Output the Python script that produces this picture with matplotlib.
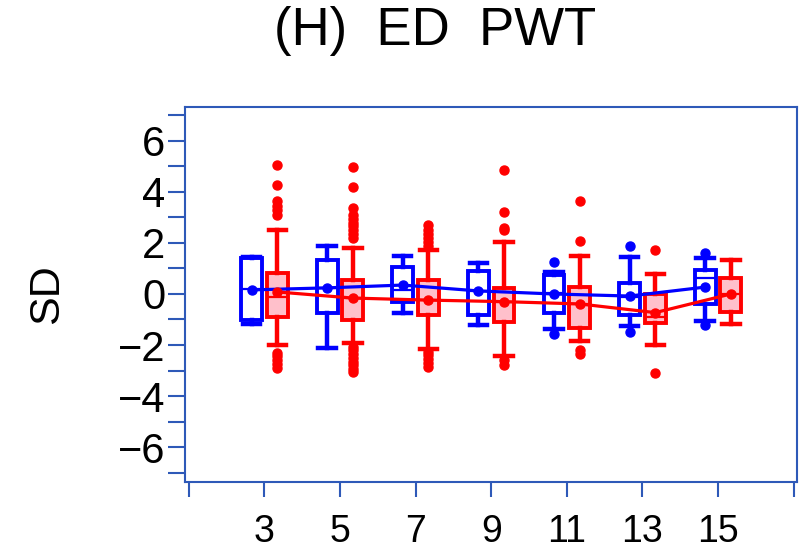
import matplotlib
matplotlib.use("Agg")
import matplotlib.pyplot as plt
from matplotlib.ticker import MultipleLocator

plt.rcParams["font.family"] = ["Liberation Sans", "DejaVu Sans"]

AXIS_BLUE = "#2e59b8"

groups = [3, 5, 7, 9, 11, 13, 15]

# blue series
blue_q1 = [-1.02, -0.76, -0.30, -0.82, -0.73, -0.82, -0.39]
blue_q3 = [1.40, 1.33, 1.07, 0.92, 0.75, 0.44, 0.94]
blue_med = [0.20, 0.22, 0.16, 0.10, 0.03, -0.10, 0.61]
blue_lo = [-1.18, -2.13, -0.76, -1.22, -1.39, -1.25, -1.05]
blue_hi = [1.45, 1.88, 1.49, 1.23, 0.85, 1.44, 1.40]
blue_mean = [0.16, 0.24, 0.35, 0.12, 0.00, -0.08, 0.27]
blue_out = [[], [], [], [], [1.27, -1.57], [1.88, -1.48], [1.62, -1.22]]

# red series
red_q1 = [-0.89, -1.02, -0.82, -1.09, -1.35, -1.15, -0.69]
red_q3 = [0.81, 0.55, 0.55, 0.22, 0.29, 0.00, 0.61]
red_med = [-0.10, -0.17, -0.24, -0.30, -0.39, -0.89, 0.00]
red_lo = [-2.00, -1.91, -2.17, -2.43, -1.83, -2.00, -1.18]
red_hi = [2.51, 1.79, 1.73, 2.05, 1.49, 0.78, 1.33]
red_mean = [0.08, -0.16, -0.24, -0.30, -0.39, -0.73, 0.00]
red_out = [
    [5.06, 4.27, 3.65, 3.45, 3.3, 3.1, -2.3, -2.45, -2.6, -2.75, -2.9],
    [4.99, 4.21, 3.36, 3.1, 2.95, 2.8, 2.65, 2.5, 2.35, 2.2,
     -2.07, -2.2, -2.35, -2.5, -2.65, -2.8, -2.95, -3.05],
    [2.71, 2.5, 2.35, 2.2, 2.05, 1.9, -2.26, -2.4, -2.55, -2.7, -2.85],
    [4.86, 3.23, 2.6, 2.5, -2.6, -2.8],
    [3.66, 2.09, -2.2, -2.35],
    [1.73, -3.09],
    [],
]

y_ticks = [-6, -4, -2, 0, 2, 4, 6]
x_ticks = [1, 3, 5, 7, 9, 11, 13, 15, 17]
x_labels = ["", "3", "5", "7", "9", "11", "13", "15", ""]


def make_stats(q1, q3, med, lo, hi, mean, out):
    return [
        dict(q1=a, q3=b, med=m, whislo=l, whishi=h, mean=mn, fliers=f)
        for a, b, m, l, h, mn, f in zip(q1, q3, med, lo, hi, mean, out)
    ]


def draw_series(ax, stats, positions, color, fill):
    lw = 2.8
    ax.bxp(
        stats,
        positions=positions,
        widths=0.55,
        capwidths=0.46,
        patch_artist=True,
        showmeans=False,
        boxprops=dict(facecolor=fill, edgecolor=color, linewidth=lw),
        whiskerprops=dict(color=color, linewidth=lw + 0.4),
        capprops=dict(color=color, linewidth=lw + 0.4),
        medianprops=dict(color=color, linewidth=1.6),
        flierprops=dict(marker="o", markerfacecolor=color, markeredgecolor=color,
                        markersize=6.5),
        manage_ticks=False,
    )


fig = plt.figure(figsize=(8, 5.56), dpi=100)
ax = fig.add_axes([185 / 800, 74 / 556, 612 / 800, 375 / 556])

blue_pos = [g - 0.34 for g in groups]
red_pos = [g + 0.34 for g in groups]

draw_series(ax, make_stats(blue_q1, blue_q3, blue_med, blue_lo, blue_hi, blue_mean, blue_out),
            blue_pos, "#0000ff", "white")
draw_series(ax, make_stats(red_q1, red_q3, red_med, red_lo, red_hi, red_mean, red_out),
            red_pos, "#ff0000", "#ffc0cb")

ax.plot(blue_pos, blue_mean, color="#0000ff", linewidth=2.3, marker="o", markersize=6.5, zorder=5)
ax.plot(red_pos, red_mean, color="#ff0000", linewidth=2.3, marker="o", markersize=6.5, zorder=5)

ax.set_xlim(0.9, 17.09)
ax.set_ylim(-7.37, 7.33)

ax.set_yticks(y_ticks)
ax.yaxis.set_minor_locator(MultipleLocator(1))
ax.set_xticks(x_ticks)
ax.set_xticklabels(x_labels)

for side in ax.spines.values():
    side.set_color(AXIS_BLUE)
    side.set_linewidth(1.5)

ax.tick_params(axis="y", which="both", direction="out", length=12, width=1.5,
               color=AXIS_BLUE, labelsize=30, pad=2)
ax.tick_params(axis="x", which="both", direction="out", length=11, width=1.5,
               color=AXIS_BLUE, labelsize=27, pad=12)

fig.text(47 / 800, 1 - 294 / 556, "SD", rotation=90, fontsize=31,
         ha="center", va="center")
fig.text(435 / 800, 1 - 45 / 556, "(H)  ED  PWT", fontsize=38,
         ha="center", va="baseline")

fig.savefig("out.png", dpi=100)
